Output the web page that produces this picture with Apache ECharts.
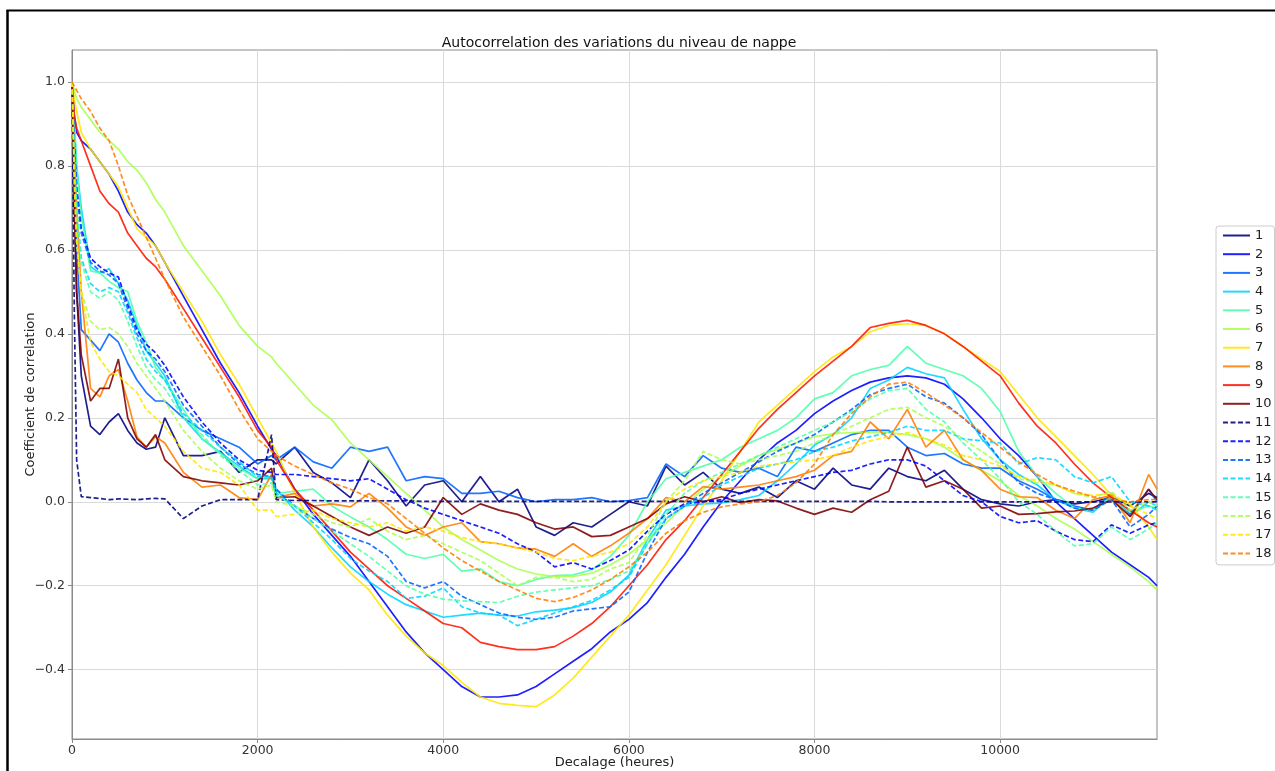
<!DOCTYPE html>
<html>
<head>
<meta charset="utf-8">
<script src="https://cdn.jsdelivr.net/npm/echarts@6/dist/echarts.min.js"></script>
<style>
html,body{margin:0;padding:0;background:#fff;}
#chart{width:1275px;height:771px;}
</style>
</head>
<body>
<div id="chart"></div>
<script>
// Lag values (hours)
const lags = [0,25,50,100,200,300,400,500,600,700,800,900,1000,
  1200,1400,1600,1800,2000,2150,2200,
  2400,2600,2800,3000,3200,3400,3600,3800,4000,4200,
  4400,4600,4800,5000,5200,5400,5600,5800,6000,6200,
  6400,6600,6800,7000,7200,7400,7600,7800,8000,8200,
  8400,8600,8800,9000,9200,9400,9600,9800,10000,10200,
  10400,10600,10800,11000,11200,11400,11600,11690];

const seriesNames = ['1','2','3','4','5','6','7','8','9','10','11','12','13','14','15','16','17','18'];
const xTicks = [0,2000,4000,6000,8000,10000];
const yTicks = [-0.4,-0.2,0.0,0.2,0.4,0.6,0.8,1.0];

const s1 = [1.0,0.75,0.5,0.3,0.18,0.16,0.19,0.21,0.17,0.14,0.125,0.13,0.2,
  0.11,0.11,0.12,0.07,0.1,0.1,0.09,
  0.13,0.07,0.045,0.01,0.1,0.05,-0.01,0.04,0.05,0.0,
  0.06,0.0,0.03,-0.06,-0.08,-0.05,-0.06,-0.03,0.0,-0.01,
  0.085,0.04,0.07,0.03,0.02,0.035,0.01,0.05,0.03,0.08,
  0.04,0.03,0.08,0.06,0.05,0.075,0.03,0.005,-0.005,-0.01,
  0.0,0.005,-0.005,0.0,0.01,-0.01,0.02,0.01];
const s2 = [1.0,0.92,0.88,0.86,0.84,0.81,0.78,0.74,0.69,0.66,0.64,0.61,0.57,
  0.49,0.41,0.33,0.26,0.18,0.125,0.11,
  0.03,-0.03,-0.08,-0.13,-0.19,-0.25,-0.31,-0.36,-0.4,-0.44,
  -0.465,-0.465,-0.46,-0.44,-0.41,-0.38,-0.35,-0.31,-0.28,-0.24,
  -0.18,-0.125,-0.06,0.0,0.05,0.1,0.14,0.17,0.21,0.24,
  0.265,0.285,0.295,0.3,0.295,0.28,0.245,0.2,0.15,0.11,
  0.06,0.0,-0.04,-0.08,-0.12,-0.15,-0.18,-0.2];
const s3 = [1.0,0.8,0.6,0.41,0.385,0.36,0.4,0.38,0.33,0.29,0.26,0.24,0.24,
  0.2,0.17,0.15,0.13,0.09,0.11,0.1,
  0.13,0.095,0.08,0.13,0.12,0.13,0.05,0.06,0.055,0.02,
  0.02,0.025,0.01,0.0,0.005,0.005,0.01,0.0,0.003,0.01,
  0.09,0.06,0.11,0.08,0.07,0.08,0.06,0.13,0.12,0.14,
  0.16,0.17,0.17,0.13,0.11,0.115,0.09,0.08,0.08,0.05,
  0.03,0.005,-0.01,-0.02,0.02,-0.03,0.03,0.0];
const s4 = [1.0,0.9,0.8,0.7,0.56,0.545,0.555,0.52,0.48,0.42,0.36,0.33,0.3,
  0.2,0.15,0.117,0.085,0.055,0.055,0.03,
  -0.02,-0.06,-0.11,-0.155,-0.19,-0.22,-0.245,-0.26,-0.275,-0.27,
  -0.265,-0.27,-0.272,-0.262,-0.258,-0.252,-0.24,-0.215,-0.175,-0.09,
  -0.02,-0.01,-0.005,-0.003,0.005,0.015,0.05,0.09,0.135,0.16,
  0.2,0.27,0.29,0.32,0.305,0.295,0.22,0.15,0.1,0.065,
  0.04,0.005,-0.015,-0.025,0.015,-0.035,0.0,-0.01];
const s5 = [1.0,0.9,0.8,0.68,0.55,0.545,0.525,0.51,0.5,0.43,0.38,0.32,0.29,
  0.22,0.15,0.115,0.08,0.055,0.06,0.02,
  0.025,0.03,-0.01,-0.036,-0.06,-0.09,-0.125,-0.135,-0.125,-0.165,
  -0.16,-0.19,-0.2,-0.185,-0.176,-0.174,-0.162,-0.13,-0.08,0.0,
  0.055,0.07,0.085,0.1,0.13,0.15,0.17,0.2,0.245,0.26,
  0.3,0.315,0.325,0.37,0.33,0.315,0.3,0.27,0.215,0.12,
  0.06,0.02,-0.015,-0.02,0.01,-0.025,-0.01,-0.015];
const s6 = [1.0,0.98,0.96,0.94,0.91,0.88,0.86,0.84,0.81,0.79,0.76,0.72,0.69,
  0.61,0.55,0.49,0.42,0.37,0.345,0.33,
  0.28,0.23,0.195,0.14,0.1,0.06,0.02,-0.02,-0.06,-0.09,
  -0.115,-0.14,-0.16,-0.172,-0.178,-0.178,-0.17,-0.15,-0.125,-0.09,
  -0.05,-0.01,0.03,0.06,0.085,0.11,0.125,0.14,0.155,0.162,
  0.165,0.166,0.165,0.16,0.15,0.13,0.1,0.075,0.05,0.015,
  -0.01,-0.04,-0.065,-0.095,-0.125,-0.155,-0.19,-0.21];
const s7 = [1.0,0.96,0.93,0.88,0.84,0.81,0.78,0.75,0.7,0.65,0.63,0.61,0.57,
  0.5,0.43,0.35,0.28,0.2,0.14,0.12,
  0.02,-0.06,-0.12,-0.17,-0.21,-0.27,-0.32,-0.36,-0.39,-0.43,
  -0.465,-0.48,-0.485,-0.488,-0.46,-0.42,-0.37,-0.32,-0.27,-0.21,
  -0.15,-0.08,-0.01,0.05,0.12,0.19,0.23,0.27,0.31,0.345,
  0.37,0.405,0.42,0.424,0.42,0.4,0.37,0.34,0.31,0.255,
  0.2,0.155,0.11,0.065,0.015,-0.005,-0.06,-0.09];
const s8 = [1.0,0.85,0.7,0.5,0.27,0.25,0.3,0.315,0.24,0.155,0.13,0.155,0.14,
  0.07,0.035,0.04,0.01,0.005,0.065,0.01,
  0.02,-0.01,-0.005,-0.012,0.02,-0.015,-0.06,-0.08,-0.06,-0.05,
  -0.095,-0.1,-0.11,-0.113,-0.13,-0.1,-0.13,-0.105,-0.075,-0.04,
  0.01,0.0,0.036,0.03,0.035,0.04,0.05,0.06,0.075,0.11,
  0.12,0.19,0.15,0.22,0.13,0.17,0.1,0.075,0.03,0.012,
  0.01,-0.02,-0.04,0.005,0.015,-0.05,0.065,0.03];
const s9 = [1.0,0.92,0.89,0.86,0.8,0.74,0.71,0.69,0.64,0.61,0.58,0.56,0.53,
  0.46,0.39,0.32,0.25,0.17,0.13,0.1,
  0.03,-0.02,-0.07,-0.12,-0.16,-0.2,-0.23,-0.26,-0.29,-0.3,
  -0.335,-0.345,-0.352,-0.352,-0.345,-0.32,-0.29,-0.25,-0.2,-0.15,
  -0.09,-0.045,0.01,0.065,0.12,0.175,0.22,0.26,0.3,0.335,
  0.37,0.415,0.425,0.432,0.42,0.4,0.37,0.335,0.3,0.235,
  0.18,0.14,0.09,0.045,0.01,-0.02,-0.05,-0.06];
const s10 = [1.0,0.7,0.5,0.35,0.24,0.27,0.27,0.34,0.2,0.15,0.13,0.16,0.1,
  0.06,0.05,0.045,0.04,0.05,0.08,0.01,
  0.012,-0.01,-0.035,-0.06,-0.08,-0.06,-0.075,-0.06,0.01,-0.03,
  -0.005,-0.02,-0.03,-0.05,-0.065,-0.06,-0.083,-0.08,-0.06,-0.04,
  -0.005,0.012,0.0,0.012,-0.002,0.005,0.002,-0.015,-0.03,-0.015,
  -0.025,0.005,0.025,0.13,0.035,0.05,0.03,-0.015,-0.01,-0.03,
  -0.028,-0.024,-0.022,-0.015,0.005,-0.035,0.03,0.005];
const s11 = [1.0,0.45,0.1,0.012,0.01,0.008,0.005,0.007,0.006,0.005,0.007,0.008,0.007,
  -0.04,-0.01,0.005,0.005,0.005,0.16,0.005,
  0.003,0.003,0.002,0.002,0.002,0.002,0.002,0.001,0.001,0.001,
  0.001,0.001,0.001,0.001,0.001,0.001,0.001,0.001,0.001,0.001,
  0.001,0.001,0.001,0.001,0.001,0.001,0.001,0.001,0.001,0.001,
  0.001,0.001,0.0,0.0,0.0,0.0,0.0,0.0,0.0,0.0,
  0.0,0.0,0.0,0.0,0.0,0.0,0.0,0.0];
const s12 = [1.0,0.85,0.75,0.65,0.58,0.56,0.545,0.535,0.47,0.41,0.375,0.355,0.325,
  0.25,0.19,0.14,0.1,0.075,0.07,0.065,
  0.065,0.06,0.055,0.05,0.055,0.03,0.005,-0.015,-0.03,-0.045,
  -0.06,-0.075,-0.1,-0.12,-0.155,-0.145,-0.16,-0.14,-0.115,-0.07,
  -0.03,-0.005,0.0,0.005,0.02,0.03,0.04,0.05,0.06,0.07,
  0.075,0.09,0.1,0.1,0.085,0.05,0.015,0.0,-0.035,-0.05,
  -0.045,-0.07,-0.09,-0.095,-0.055,-0.075,-0.055,-0.05];
const s13 = [1.0,0.85,0.74,0.64,0.57,0.55,0.54,0.52,0.46,0.4,0.36,0.34,0.31,
  0.23,0.18,0.13,0.09,0.065,0.06,0.03,
  -0.01,-0.04,-0.065,-0.085,-0.1,-0.13,-0.19,-0.205,-0.19,-0.225,
  -0.245,-0.265,-0.275,-0.28,-0.275,-0.26,-0.255,-0.25,-0.215,-0.12,
  -0.04,-0.01,0.02,0.045,0.07,0.095,0.12,0.14,0.16,0.19,
  0.22,0.255,0.27,0.28,0.25,0.235,0.2,0.16,0.1,0.045,
  0.02,0.005,-0.015,-0.02,0.005,-0.06,-0.03,-0.01];
const s14 = [1.0,0.82,0.7,0.58,0.52,0.5,0.51,0.5,0.45,0.39,0.34,0.31,0.29,
  0.21,0.17,0.13,0.095,0.06,0.06,0.02,
  -0.01,-0.05,-0.09,-0.135,-0.165,-0.19,-0.23,-0.225,-0.205,-0.25,
  -0.265,-0.27,-0.295,-0.28,-0.265,-0.25,-0.235,-0.21,-0.18,-0.1,
  -0.04,-0.01,0.01,0.04,0.06,0.08,0.09,0.1,0.12,0.13,
  0.145,0.155,0.165,0.18,0.17,0.17,0.15,0.145,0.14,0.09,
  0.105,0.1,0.06,0.045,0.06,0.0,-0.01,-0.02];
const s15 = [1.0,0.82,0.7,0.57,0.5,0.485,0.5,0.48,0.43,0.37,0.32,0.29,0.27,
  0.2,0.16,0.11,0.075,0.04,0.045,0.015,
  -0.01,-0.04,-0.07,-0.1,-0.13,-0.165,-0.2,-0.22,-0.232,-0.236,
  -0.238,-0.24,-0.225,-0.215,-0.21,-0.205,-0.2,-0.185,-0.165,-0.1,
  -0.03,0.02,0.05,0.07,0.09,0.11,0.13,0.15,0.17,0.19,
  0.215,0.245,0.265,0.27,0.22,0.19,0.14,0.1,0.055,0.0,
  -0.03,-0.07,-0.105,-0.1,-0.06,-0.09,-0.065,-0.05];
const s16 = [1.0,0.78,0.62,0.5,0.43,0.41,0.415,0.4,0.37,0.33,0.3,0.27,0.24,
  0.17,0.12,0.08,0.05,0.03,0.04,0.0,
  -0.01,-0.03,-0.05,-0.06,-0.04,-0.07,-0.09,-0.08,-0.1,-0.12,
  -0.14,-0.17,-0.2,-0.18,-0.18,-0.19,-0.185,-0.16,-0.145,-0.08,
  0.0,0.05,0.12,0.1,0.09,0.1,0.11,0.12,0.14,0.16,
  0.18,0.2,0.22,0.225,0.2,0.18,0.15,0.12,0.09,0.055,
  0.045,0.04,0.02,0.01,0.025,-0.02,0.0,-0.01];
const s17 = [1.0,0.75,0.62,0.5,0.38,0.34,0.31,0.3,0.28,0.26,0.22,0.2,0.18,
  0.12,0.08,0.07,0.04,-0.02,-0.02,-0.035,
  -0.03,-0.02,-0.04,-0.05,-0.06,-0.05,-0.07,-0.06,-0.07,-0.085,
  -0.095,-0.1,-0.11,-0.12,-0.135,-0.14,-0.13,-0.12,-0.1,-0.06,
  0.0,0.03,0.05,0.06,0.07,0.085,0.09,0.095,0.1,0.11,
  0.13,0.145,0.155,0.165,0.15,0.135,0.11,0.1,0.085,0.06,
  0.05,0.04,0.02,0.015,0.02,-0.01,-0.03,-0.04];
const s18 = [1.0,0.99,0.98,0.96,0.93,0.89,0.86,0.8,0.73,0.68,0.63,0.58,0.53,
  0.44,0.37,0.3,0.22,0.15,0.12,0.11,
  0.085,0.065,0.045,0.03,0.01,-0.005,-0.04,-0.075,-0.11,-0.14,
  -0.165,-0.19,-0.21,-0.23,-0.238,-0.228,-0.21,-0.185,-0.155,-0.12,
  -0.075,-0.045,-0.025,-0.012,-0.005,0.0,0.015,0.045,0.09,0.16,
  0.21,0.25,0.28,0.285,0.26,0.23,0.2,0.165,0.13,0.095,
  0.065,0.04,0.025,0.012,0.005,0.0,0.005,0.005];

const allValues = [s1,s2,s3,s4,s5,s6,s7,s8,s9,s10,s11,s12,s13,s14,s15,s16,s17,s18];
const colors = ['#000080','#0000ff','#0063ff','#00d4ff','#4dffaa','#aaff4d','#ffe600','#ff7d00','#ff1400','#800000',
                '#000080','#0000ff','#0063ff','#00d4ff','#4dffaa','#aaff4d','#ffe600','#ff7d00'];

const FONT = 'DejaVu Sans';

const series = allValues.map((vals, i) => ({
  name: seriesNames[i],
  type: 'line',
  symbol: 'none',
  smooth: false,
  silent: true,
  data: lags.map((x, j) => [x, vals[j]]),
  lineStyle: {
    width: 1.7,
    color: colors[i],
    opacity: 0.88,
    type: i >= 10 ? [5, 2.5] : 'solid'
  },
  itemStyle: { color: colors[i] }
}));

const fmtY = v => {
  const s = Math.abs(v).toFixed(1);
  return v < -1e-9 ? '\u2212' + s : s;
};
const fmtX = v => String(Math.round(v));

const chart = echarts.init(document.getElementById('chart'), null, { renderer: 'canvas' });
chart.setOption({
  animation: false,
  backgroundColor: '#ffffff',
  textStyle: { fontFamily: FONT },
  title: {
    text: 'Autocorrelation des variations du niveau de nappe',
    left: 614,
    top: 31,
    textAlign: 'center',
    textStyle: { fontFamily: FONT, fontSize: 14, fontWeight: 'normal', color: '#111' }
  },
  grid: {
    left: 72, right: 118, top: 50, bottom: 32,
    outerBoundsMode: 'none',
    containLabel: false,
    show: true, borderColor: '#8a8a8a', borderWidth: 1
  },
  legend: {
    orient: 'vertical',
    left: 1216,
    top: 226,
    data: seriesNames,
    itemWidth: 27,
    itemHeight: 12,
    itemGap: 5.7,
    padding: [3, 3, 5, 6],
    borderColor: '#cccccc',
    borderWidth: 1,
    borderRadius: 3,
    backgroundColor: '#ffffff',
    itemStyle: { opacity: 0 },
    textStyle: { fontFamily: FONT, fontSize: 13, color: '#222', lineHeight: 12 }
  },
  xAxis: {
    type: 'value',
    min: 0,
    max: 11690,
    name: 'Decalage (heures)',
    nameLocation: 'middle',
    nameGap: 17,
    nameMoveOverlap: false,
    nameTextStyle: { fontFamily: FONT, fontSize: 13, color: '#222' },
    axisLine: { show: true, onZero: false, lineStyle: { color: '#8a8a8a' } },
    axisTick: { show: true, length: 4, customValues: xTicks, lineStyle: { color: '#8a8a8a' } },
    axisLabel: { customValues: xTicks, formatter: fmtX, fontFamily: FONT, fontSize: 12.5, color: '#333', margin: 5 },
    splitLine: { show: true, lineStyle: { color: '#dadada', width: 1 } }
  },
  yAxis: {
    type: 'value',
    min: -0.565,
    max: 1.076,
    name: 'Coefficient de correlation',
    nameLocation: 'middle',
    nameGap: 35,
    nameMoveOverlap: false,
    nameTextStyle: { fontFamily: FONT, fontSize: 13, color: '#222' },
    axisLine: { show: true, onZero: false, lineStyle: { color: '#8a8a8a' } },
    axisTick: { show: true, length: 4, customValues: yTicks, lineStyle: { color: '#8a8a8a' } },
    axisLabel: { customValues: yTicks, formatter: fmtY, fontFamily: FONT, fontSize: 12.5, color: '#333', margin: 7 },
    splitLine: { show: true, lineStyle: { color: '#dadada', width: 1 } }
  },
  graphic: [
    { type: 'line', silent: true, shape: { x1: 7.5, y1: 10, x2: 7.5, y2: 771 }, style: { stroke: '#000', lineWidth: 2.5 } },
    { type: 'line', silent: true, shape: { x1: 6.5, y1: 10.5, x2: 1275, y2: 10.5 }, style: { stroke: '#000', lineWidth: 2 } }
  ],
  series: series
});
</script>
</body>
</html>
